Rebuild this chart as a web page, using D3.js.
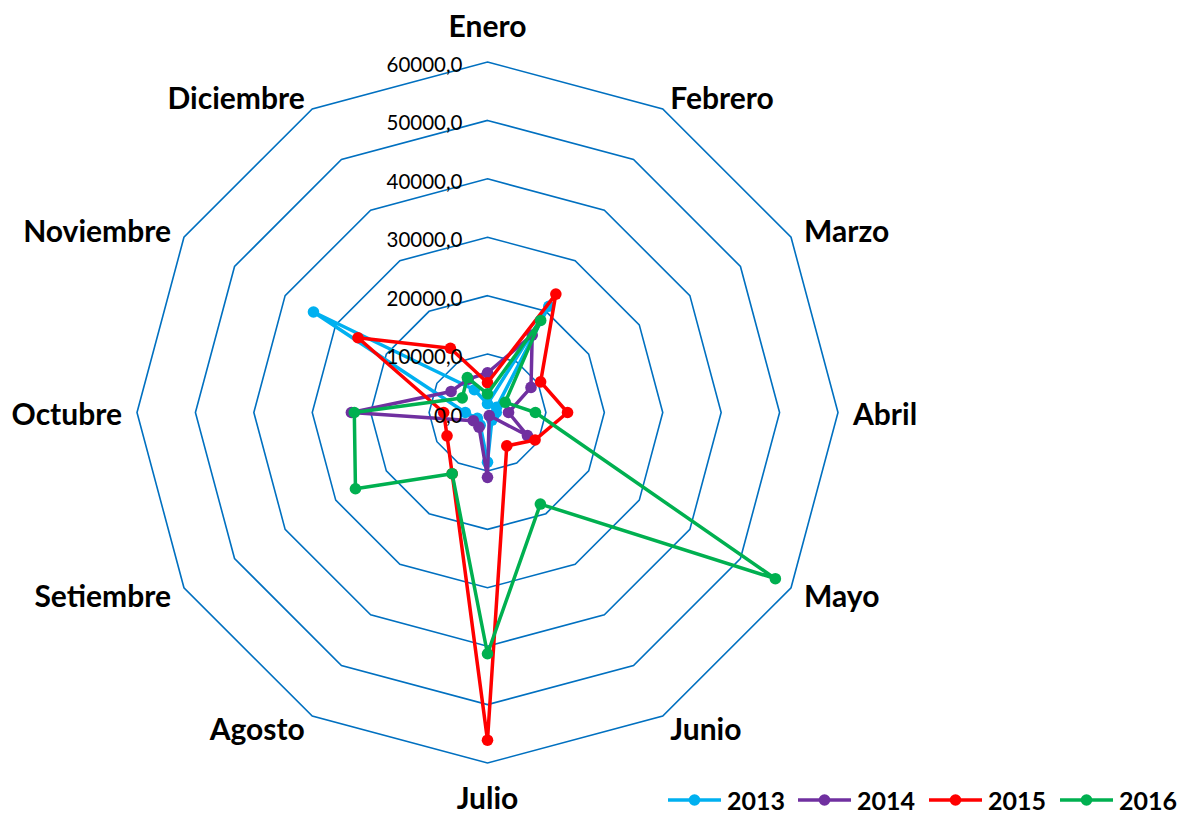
<!DOCTYPE html>
<html>
<head>
<meta charset="utf-8">
<script src="https://cdn.jsdelivr.net/npm/d3@7"></script>
<style>
  html, body { margin: 0; padding: 0; background: #fff; }
  svg { display: block; }
</style>
</head>
<body>
<svg id="chart" width="1186" height="814"></svg>
<script>
const months = ["Enero","Febrero","Marzo","Abril","Mayo","Junio","Julio","Agosto","Setiembre","Octubre","Noviembre","Diciembre"];
const years = ["2013","2014","2015","2016"];
const v2013 = [1500, 21000, 1800, 1500, 1200, 1500, 8500, 2500, 2000, 3800, 34400, 4500];
const v2014 = [6800, 15300, 8600, 3600, 7900, 600, 11100, 2900, 2800, 23300, 7200, 6600];
const v2015 = [5100, 23400, 10500, 13700, 9400, 6600, 56100, 12100, 8000, 7500, 25600, 12700];
const v2016 = [3200, 18200, 3500, 8200, 56900, 18100, 41300, 12100, 26100, 22800, 5000, 6900];
const tickValues = [0, 10000, 20000, 30000, 40000, 50000, 60000];
const tickLabels = ["0,0","10000,0","20000,0","30000,0","40000,0","50000,0","60000,0"];
const colors = ["#00B0F0", "#7030A0", "#FF0000", "#00B050"];

const series = [v2013, v2014, v2015, v2016];

const svg = d3.select("#chart");
const cx = 487.5, cy = 412.5, R = 350.5;
const g = svg.append("g").attr("transform", `translate(${cx},${cy})`);

const r = d3.scaleLinear().domain([0, 60000]).range([0, R]);
const angle = d3.scaleLinear().domain([0, months.length]).range([0, 2 * Math.PI]);

// grid rings
const ringLine = d3.lineRadial().angle((d, i) => angle(i)).radius(d => r(d)).curve(d3.curveLinearClosed);
tickValues.filter(t => t > 0).forEach(t => {
  g.append("path")
    .attr("d", ringLine(months.map(() => t)))
    .attr("fill", "none")
    .attr("stroke", "#0070C0")
    .attr("stroke-width", 1.6);
});

// month labels
g.selectAll("text.month").data(months).enter().append("text")
  .attr("class", "month")
  .each(function(d, i) {
    const a = angle(i);
    const s = Math.sin(a), c = Math.cos(a);
    let x = R * s + 15 * s;
    let y = -R * c - 14 * c;
    let anchor = "middle";
    if (s > 0.01) anchor = "start";
    else if (s < -0.01) anchor = "end";
    if (Math.abs(s) < 0.01) { y = -R * c - (c > 0 ? 37 : 34) * c; }
    d3.select(this)
      .attr("x", x).attr("y", y)
      .attr("text-anchor", anchor)
      .attr("dominant-baseline", "central");
  })
  .attr("font-family", "Lato, 'Open Sans', sans-serif")
  .attr("font-weight", "bold")
  .attr("font-size", 30)
  .attr("fill", "#000")
  .text(d => d);

// series
const seriesLine = d3.lineRadial().angle((d, i) => angle(i)).radius(d => r(d)).curve(d3.curveLinearClosed);
series.forEach((vals, k) => {
  const sg = g.append("g");
  sg.append("path")
    .attr("d", seriesLine(vals))
    .attr("fill", "none")
    .attr("stroke", colors[k])
    .attr("stroke-width", 3.5)
    .attr("stroke-linejoin", "round");
  sg.selectAll("circle").data(vals).enter().append("circle")
    .attr("cx", (d, i) => r(d) * Math.sin(angle(i)))
    .attr("cy", (d, i) => -r(d) * Math.cos(angle(i)))
    .attr("r", 5.8)
    .attr("fill", colors[k]);
});

// tick labels (on top of series)
g.selectAll("text.tick").data(tickValues).enter().append("text")
  .attr("class", "tick")
  .attr("x", -25)
  .attr("y", d => -r(d) + 2)
  .attr("text-anchor", "end")
  .attr("dominant-baseline", "central")
  .attr("font-family", "Lato, 'Open Sans', sans-serif")
  .attr("font-size", 20.5)
  .attr("fill", "#000")
  .text((d, i) => tickLabels[i]);

// legend
const legendX = [668, 798, 929, 1060];
const lg = svg.append("g").attr("transform", "translate(0,800)");
years.forEach((y, k) => {
  const x0 = legendX[k];
  lg.append("line").attr("x1", x0).attr("x2", x0 + 53).attr("y1", 0).attr("y2", 0)
    .attr("stroke", colors[k]).attr("stroke-width", 3.5);
  lg.append("circle").attr("cx", x0 + 26.5).attr("cy", 0).attr("r", 5.8).attr("fill", colors[k]);
  lg.append("text").attr("x", x0 + 59).attr("y", 0)
    .attr("dominant-baseline", "central")
    .attr("font-family", "Lato, 'Open Sans', sans-serif")
    .attr("font-weight", "bold")
    .attr("font-size", 25)
    .attr("fill", "#000")
    .text(y);
});
</script>
</body>
</html>
